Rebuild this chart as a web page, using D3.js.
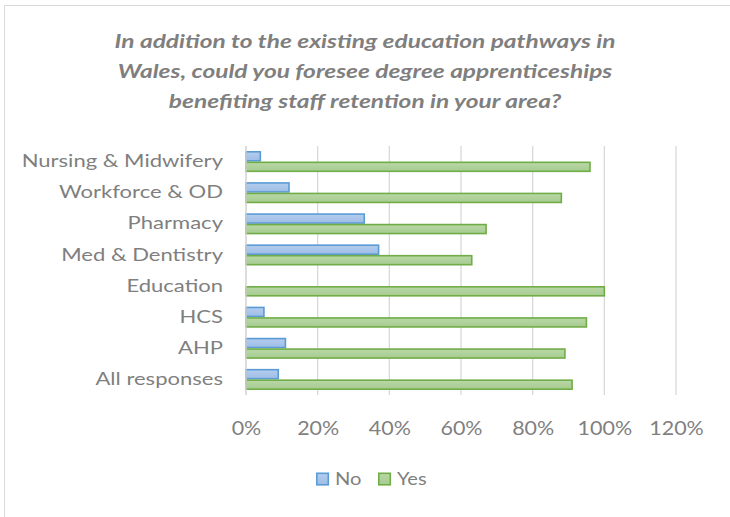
<!DOCTYPE html>
<html>
<head>
<meta charset="utf-8">
<script src="https://cdn.jsdelivr.net/npm/d3@7"></script>
<style>
  html, body { margin: 0; padding: 0; background: #fff; }
  svg { display: block; }
</style>
</head>
<body>
<svg id="chart" width="730" height="517"></svg>
<script>
// Survey responses by staff group (share of respondents)
const categories = ["Nursing & Midwifery", "Workforce & OD", "Pharmacy", "Med & Dentistry", "Education", "HCS", "AHP", "All responses"];
const noValues  = [0.04, 0.12, 0.33, 0.37, 0.00, 0.05, 0.11, 0.09];
const yesValues = [0.96, 0.88, 0.67, 0.63, 1.00, 0.95, 0.89, 0.91];
const seriesNames = ["No", "Yes"];
const xTicks = [0, 0.2, 0.4, 0.6, 0.8, 1.0, 1.2];
const titleLines = [
  "In addition to the existing education pathways in",
  "Wales, could you foresee degree apprenticeships",
  "benefiting staff retention in your area?"
];

const fills   = { No: "#a9c4e8", Yes: "#aed09a" };
const strokes = { No: "#5b9bd5", Yes: "#70ad47" };
const textColor = "#7f7f7f";
const font = "Lato, 'Open Sans', sans-serif";

const svg = d3.select("#chart");

// soft vertical gradients for the bar fills
const defs = svg.append("defs");
const gradStops = {
  No:  ["#b4cdee", "#9ebde6"],
  Yes: ["#b9d8a6", "#a6cb90"]
};
seriesNames.forEach(s => {
  const g = defs.append("linearGradient").attr("id", "grad-" + s)
    .attr("x1", 0).attr("y1", 0).attr("x2", 0).attr("y2", 1);
  g.append("stop").attr("offset", "0%").attr("stop-color", gradStops[s][0]);
  g.append("stop").attr("offset", "100%").attr("stop-color", gradStops[s][1]);
});

// chart frame
svg.append("rect")
  .attr("x", 4.5).attr("y", 5.5)
  .attr("width", 740).attr("height", 540)
  .attr("fill", "#fff")
  .attr("stroke", "#d9d9d9").attr("stroke-width", 1);

const plot = { left: 246, right: 676, top: 146, bottom: 395 };

const x = d3.scaleLinear().domain([0, 1.2]).range([plot.left, plot.right]);
const y = d3.scaleBand().domain(categories).range([plot.top, plot.bottom]).paddingInner(0.325).paddingOuter(0.1625);
const ySub = d3.scaleBand().domain(seriesNames).range([0, y.bandwidth()]);

// title (text is widened slightly to match the chart's wide typography)
const title = svg.append("g");
titleLines.forEach((line, i) => {
  title.append("g")
    .attr("transform", `translate(365, ${48 + i * 30})`)
    .append("text")
    .attr("transform", "scale(1.36, 1)")
    .attr("text-anchor", "middle")
    .attr("font-family", font)
    .attr("font-weight", "bold")
    .attr("font-style", "italic")
    .attr("font-size", 18)
    .attr("fill", textColor)
    .text(line);
});

// vertical gridlines
svg.append("g")
  .selectAll("line")
  .data(xTicks)
  .join("line")
  .attr("x1", d => x(d)).attr("x2", d => x(d))
  .attr("y1", plot.top).attr("y2", plot.bottom)
  .attr("stroke", "#d9d9d9").attr("stroke-width", 1.3);

// x axis tick labels
const xAxis = d3.axisBottom(x).tickValues(xTicks).tickFormat(d3.format(".0%")).tickSize(0).tickPadding(0);
const xg = svg.append("g").attr("transform", `translate(0, ${plot.bottom + 40})`).call(xAxis);
xg.select(".domain").remove();
xg.selectAll("text")
  .attr("font-family", font).attr("font-size", 19.5)
  .attr("fill", textColor).attr("dy", 0)
  .attr("transform", "scale(1.1, 1)");

// y axis category labels
const yAxis = d3.axisLeft(y).tickSize(0).tickPadding(0);
const yg = svg.append("g").attr("transform", `translate(${plot.left - 23}, 0)`).call(yAxis);
yg.select(".domain").remove();
yg.selectAll("text")
  .attr("font-family", font).attr("font-size", 17.5)
  .attr("fill", textColor)
  .attr("transform", "scale(1.26, 1)");

// bars
const rows = categories.map((c, i) => ({ category: c, No: noValues[i], Yes: yesValues[i] }));
const groups = svg.append("g")
  .selectAll("g")
  .data(rows)
  .join("g")
  .attr("transform", d => `translate(0, ${y(d.category)})`);

groups.selectAll("rect")
  .data(d => seriesNames.map(s => ({ series: s, value: d[s] })).filter(e => e.value > 0))
  .join("rect")
  .attr("x", x(0))
  .attr("y", d => ySub(d.series) + 0.75)
  .attr("width", d => x(d.value) - x(0))
  .attr("height", ySub.bandwidth() - 1.5)
  .attr("fill", d => `url(#grad-${d.series})`)
  .attr("stroke", d => strokes[d.series])
  .attr("stroke-width", 1.6);

// axis line at 0
svg.append("line")
  .attr("x1", x(0)).attr("x2", x(0))
  .attr("y1", plot.top).attr("y2", plot.bottom)
  .attr("stroke", "#d9d9d9").attr("stroke-width", 1.3);

// legend
const legend = svg.append("g").attr("transform", "translate(316, 479)");
const legendItems = [{ name: "No", dx: 0 }, { name: "Yes", dx: 62 }];
const li = legend.selectAll("g").data(legendItems).join("g")
  .attr("transform", d => `translate(${d.dx}, 0)`);
li.append("rect")
  .attr("x", 0.8).attr("y", -5.7)
  .attr("width", 11.5).attr("height", 11.5)
  .attr("fill", d => `url(#grad-${d.name})`)
  .attr("stroke", d => strokes[d.name]).attr("stroke-width", 1.6);
li.append("g")
  .attr("transform", "translate(19, 0)")
  .append("text")
  .attr("dy", "0.35em")
  .attr("transform", "scale(1.15, 1)")
  .attr("font-family", font).attr("font-size", 17.5)
  .attr("fill", textColor)
  .text(d => d.name);
</script>
</body>
</html>
